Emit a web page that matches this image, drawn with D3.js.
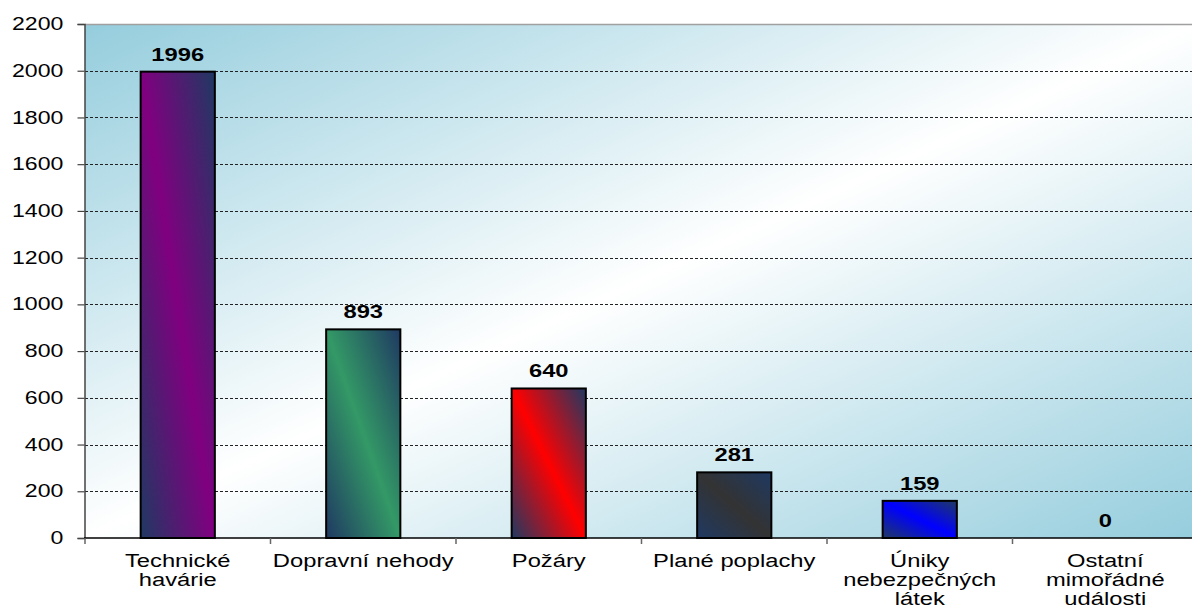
<!DOCTYPE html>
<html>
<head>
<meta charset="utf-8">
<style type="text/css">
	body{ margin:0; background:#fff; }
	svg{ display:block; }
	text{ font-family:"Liberation Sans", Arial, sans-serif; fill:#000; }
</style>
<script src="https://cdn.jsdelivr.net/npm/d3@7"></script>
</head>
<body>
<svg id="svg" width="1192" height="610"></svg>
<script type="text/javascript">

	// data
	var categories = ["Technické\nhavárie", "Dopravní nehody", "Požáry", "Plané poplachy", "Úniky\nnebezpečných\nlátek", "Ostatní\nmimořádné\nudálosti"];
	var values = [1996, 893, 640, 281, 159, 0];
	var barColors = ["#800080", "#339966", "#ff0000", "#333333", "#0000ff", "#808080"];
	var yTicks = [0, 200, 400, 600, 800, 1000, 1200, 1400, 1600, 1800, 2000, 2200];

	var plotLeft = 85, plotRight = 1198, plotTop = 24, plotBottom = 538;
	var stretch = 1.32; // the original text is drawn wide
	var navy = "#1f3962";

	var svg = d3.select("#svg");
	var defs = svg.append("defs");

	// plot background: blue corners, white diagonal band
	var bg = defs.append("linearGradient").attr("id", "bg")
		.attr("x1", 0).attr("y1", 0).attr("x2", 1).attr("y2", 1);
	bg.append("stop").attr("offset", 0).attr("stop-color", "#95cddd");
	bg.append("stop").attr("offset", 0.5).attr("stop-color", "#ffffff");
	bg.append("stop").attr("offset", 1).attr("stop-color", "#95cddd");

	barColors.forEach(function(c, i){
		var g = defs.append("linearGradient").attr("id", "bar" + i)
			.attr("x1", 0).attr("y1", 1).attr("x2", 1).attr("y2", 0);
		g.append("stop").attr("offset", 0).attr("stop-color", navy);
		g.append("stop").attr("offset", 0.5).attr("stop-color", c);
		g.append("stop").attr("offset", 1).attr("stop-color", navy);
	});

	var x = d3.scaleBand().domain(categories).range([plotLeft, plotRight]).paddingInner(0.6).paddingOuter(0.3);
	var y = d3.scaleLinear().domain([0, 2200]).range([plotBottom, plotTop]);

	svg.append("rect").attr("x", plotLeft).attr("y", plotTop).attr("width", plotRight - plotLeft).attr("height", plotBottom - plotTop)
		.style("fill", "url(#bg)");

	// grid
	svg.append("g").selectAll("line").data(yTicks.filter(function(d){ return d > 0 && d < 2200; })).enter().append("line")
		.attr("x1", plotLeft).attr("x2", plotRight)
		.attr("y1", function(d){ return Math.round(y(d)) + 0.5; })
		.attr("y2", function(d){ return Math.round(y(d)) + 0.5; })
		.style("stroke", "#222").style("stroke-width", 1).style("stroke-dasharray", "3,2");
	svg.append("line").attr("x1", plotLeft).attr("x2", plotRight).attr("y1", plotTop + 0.5).attr("y2", plotTop + 0.5)
		.style("stroke", "#a0a0a0").style("stroke-width", 1.5);

	// y axis
	var yAxis = svg.append("g").attr("transform", "translate(" + (plotLeft - 0.5) + ",0)")
		.call(d3.axisLeft(y).tickValues(yTicks).tickFormat(d3.format("d")).tickSize(7).tickPadding(9));
	yAxis.select(".domain").style("stroke", "#444").style("stroke-width", 1.5);
	yAxis.selectAll(".tick line").style("stroke", "#444").style("stroke-width", 1.2);
	yAxis.selectAll("text").style("font-size", "17.5px").style("font-family", "'Liberation Sans', Arial, sans-serif")
		.attr("fill", "#000").attr("transform", "scale(" + stretch + ",1)");

	// bars
	svg.append("g").selectAll("rect").data(values).enter().append("rect")
		.attr("x", function(d, i){ return x(categories[i]); })
		.attr("y", function(d){ return y(d); })
		.attr("width", x.bandwidth())
		.attr("height", function(d){ return y(0) - y(d); })
		.style("fill", function(d, i){ return "url(#bar" + i + ")"; })
		.style("stroke", "#000").style("stroke-width", 2);

	// x axis
	svg.append("line").attr("x1", plotLeft - 1).attr("x2", plotRight).attr("y1", plotBottom).attr("y2", plotBottom)
		.style("stroke", "#000").style("stroke-width", 1.5);
	var bounds = categories.map(function(c){ return x(c) - x.step() * 0.3; });
	bounds.push(plotRight);
	svg.append("g").selectAll("line").data(bounds).enter().append("line")
		.attr("x1", function(d){ return d; }).attr("x2", function(d){ return d; })
		.attr("y1", plotBottom).attr("y2", plotBottom + 6)
		.style("stroke", "#666").style("stroke-width", 1.5);

	// value labels
	svg.append("g").selectAll("text").data(values).enter().append("text")
		.attr("transform", function(d, i){
			return "translate(" + (x(categories[i]) + x.bandwidth() / 2) + "," + (y(d) - 11) + ") scale(" + stretch + ",1)";
		})
		.attr("text-anchor", "middle")
		.style("font-size", "18px").style("font-weight", "bold")
		.text(function(d){ return d; });

	// category labels
	var cat = svg.append("g").selectAll("text").data(categories).enter().append("text")
		.attr("transform", function(d){
			return "translate(" + (x(d) + x.bandwidth() / 2) + "," + 567 + ") scale(" + stretch + ",1)";
		})
		.attr("text-anchor", "middle")
		.style("font-size", "18px");
	cat.each(function(d){
		var t = d3.select(this);
		d.split("\n").forEach(function(line, k){
			t.append("tspan").attr("x", 0).attr("y", k * 19).text(line);
		});
	});

</script>
</body>
</html>
